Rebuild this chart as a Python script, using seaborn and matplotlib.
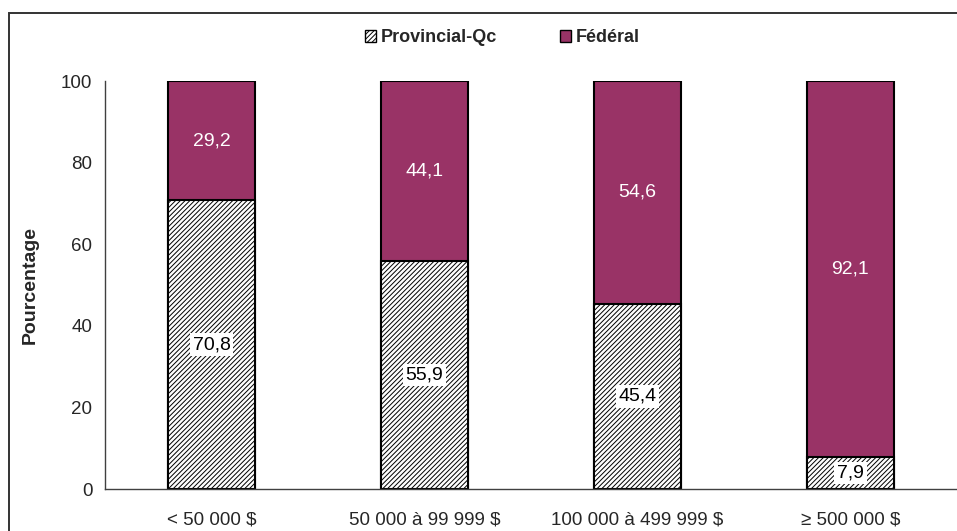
import matplotlib
matplotlib.use("Agg")
import matplotlib.pyplot as plt
from matplotlib.patches import Patch, Rectangle
import seaborn as sns
import pandas as pd

# data
categories = ["< 50 000 $", "50 000 à 99 999 $", "100 000 à 499 999 $", "≥ 500 000 $"]
provincial = [70.8, 55.9, 45.4, 7.9]
federal = [29.2, 44.1, 54.6, 92.1]

plum = "#993366"
hatch = "///////"

sns.set_style("white")
plt.rcParams["font.family"] = ["Liberation Sans", "DejaVu Sans"]
plt.rcParams["hatch.linewidth"] = 0.7
plt.rcParams["hatch.color"] = "#3a3a3a"

df = pd.DataFrame({"cat": categories, "prov": provincial, "fed": federal})
df["total"] = df["prov"] + df["fed"]

fig = plt.figure(figsize=(9.57, 5.31), dpi=100)
ax = fig.add_axes([105 / 957, 1 - 489 / 531, 1 - 105 / 957, (489 - 81) / 531])

# stacked: draw total first (federal colour), provincial on top of it
sns.barplot(data=df, x="cat", y="total", color=plum, saturation=1, width=0.41,
            edgecolor="black", linewidth=1.5, ax=ax)
sns.barplot(data=df, x="cat", y="prov", color="white", saturation=1, width=0.41,
            edgecolor="black", linewidth=1.5, hatch=hatch, ax=ax)

# value labels
for i, (p, f) in enumerate(zip(provincial, federal)):
    ax.text(i, p / 2, f"{p:.1f}".replace(".", ","), ha="center", va="center",
            fontsize=14, color="black",
            bbox=dict(facecolor="white", edgecolor="none", pad=2))
    ax.text(i, p + f / 2, f"{f:.1f}".replace(".", ","), ha="center", va="center",
            fontsize=14, color="white")

ax.set_xlim(-0.5, 3.5)
ax.set_ylim(0, 100)
ax.set_yticks([0, 20, 40, 60, 80, 100])
ax.set_xlabel("")
ax.set_ylabel("Pourcentage", fontsize=14, fontweight="bold", labelpad=16)
ax.set_xticks(range(4))
ax.set_xticklabels(categories)
ax.set_xticks([-0.5, 0.5, 1.5, 2.5, 3.5], minor=True)
ax.tick_params(axis="x", which="major", length=0, pad=16, labelsize=13.5)
ax.tick_params(axis="x", which="minor", length=5, width=1, color="#404040", direction="out")
ax.tick_params(axis="y", length=5, width=1, color="#404040", direction="out", labelsize=13.5, pad=4)
for side in ["top", "right"]:
    ax.spines[side].set_visible(False)
for side in ["left", "bottom"]:
    ax.spines[side].set_color("#404040")
    ax.spines[side].set_linewidth(1)

# legend
handles = [Patch(facecolor="white", edgecolor="black", hatch=hatch, label="Provincial-Qc"),
           Patch(facecolor=plum, edgecolor="black", label="Fédéral")]
fig.legend(handles=handles, loc="center", bbox_to_anchor=(0.525, 1 - 38 / 531), ncol=2,
           frameon=False, prop=dict(weight="bold", size=13), handlelength=0.6,
           handleheight=0.6, handletextpad=0.25, columnspacing=3.5)

# outer frame
fig.patches.append(Rectangle((9 / 957, -0.1), 1.2, 1 - 13 / 531 + 0.1, transform=fig.transFigure,
                             fill=False, edgecolor="#333333", linewidth=1.4))

fig.savefig("out.png", dpi=100)
